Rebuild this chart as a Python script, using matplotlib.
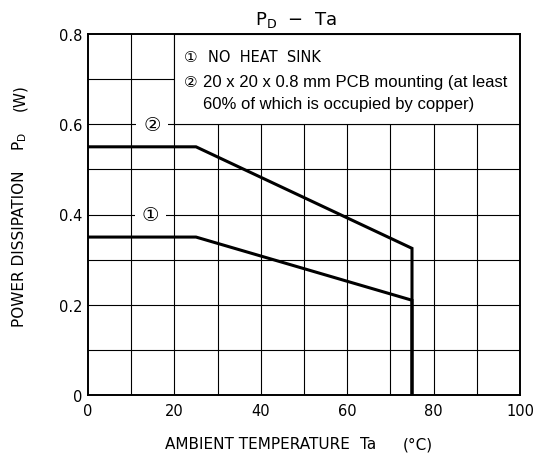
import matplotlib
matplotlib.use("Agg")
import matplotlib.pyplot as plt
from matplotlib.patches import Rectangle

plt.rcParams['font.family'] = ['DejaVu Sans', 'Noto Sans CJK JP']

# data
ta_1 = [0, 25, 75, 75]
pd_1 = [0.35, 0.35, 0.21, 0.0]
ta_2 = [0, 25, 75, 75]
pd_2 = [0.55, 0.55, 0.325, 0.0]

x_major = [0, 20, 40, 60, 80, 100]
x_labels = ["0", "20", "40", "60", "80", "100"]
y_major = [0, 0.2, 0.4, 0.6, 0.8]
y_labels = ["0", "0.2", "0.4", "0.6", "0.8"]
x_grid = [10, 20, 30, 40, 50, 60, 70, 80, 90]
y_grid = [0.1, 0.2, 0.3, 0.4, 0.5, 0.6, 0.7]

W, H = 534, 460


def fx(px):
    return px / W


def fy(py):
    return 1 - py / H


fig = plt.figure(figsize=(W / 100, H / 100), dpi=100)
ax = fig.add_axes([fx(88), fy(396), fx(520) - fx(88), fy(35) - fy(396)])
ax.set_xlim(0, 100)
ax.set_ylim(0, 0.8)

# grid
for x in x_grid:
    ax.axvline(x, color="black", lw=0.8, zorder=1)
for y in y_grid:
    ax.axhline(y, color="black", lw=0.8, zorder=1)

# white box for the notes (covers the grid in the upper right)
ax.add_patch(Rectangle((20, 0.6), 80, 0.2, facecolor="white", edgecolor="black",
                       lw=0.8, zorder=2))
fig.text(fx(184), fy(57), "①", fontsize=11, va="center")
fig.text(fx(208), fy(57), "NO  HEAT  SINK", fontsize=10.5, va="center")
fig.text(fx(184), fy(83), "②", fontsize=11, va="center")
fig.text(fx(203), fy(83), "20 x 20 x 0.8 mm PCB mounting (at least",
         fontsize=12, family="Liberation Sans", va="center")
fig.text(fx(203), fy(104), "60% of which is occupied by copper)",
         fontsize=12, family="Liberation Sans", va="center")

# curve labels on the grid lines
ax.text(14.8, 0.6, "②", fontsize=14, ha="center", va="center", zorder=3,
        bbox=dict(facecolor="white", edgecolor="none", pad=5))
ax.text(14.5, 0.4, "①", fontsize=14, ha="center", va="center", zorder=3,
        bbox=dict(facecolor="white", edgecolor="none", pad=5))

# derating curves
ax.plot(ta_1, pd_1, color="black", lw=2.2, zorder=4, solid_joinstyle="miter")
ax.plot(ta_2, pd_2, color="black", lw=2.2, zorder=4, solid_joinstyle="miter")

ax.set_xticks(x_major)
ax.set_xticklabels(x_labels)
ax.set_yticks(y_major)
ax.set_yticklabels(y_labels)
ax.tick_params(length=0, labelsize=10.5)
ax.tick_params(axis="x", pad=6)
ax.tick_params(axis="y", pad=4)
for s in ax.spines.values():
    s.set_linewidth(1.4)

# axis titles
fig.text(fx(257), fy(445), "AMBIENT TEMPERATURE", fontsize=11, ha="center", va="center")
fig.text(fx(368), fy(445), "Ta", fontsize=11, ha="center", va="center")
fig.text(fx(418), fy(445), "(°C)", fontsize=11, ha="center", va="center")

fig.text(fx(20), fy(249), "POWER DISSIPATION", fontsize=11, rotation=90,
         ha="center", va="center")
fig.text(fx(20), fy(142), r"P$_\mathregular{D}$", fontsize=11, rotation=90,
         ha="center", va="center")
fig.text(fx(20), fy(98), "(W)", fontsize=11, rotation=90, ha="center", va="center")

fig.text(fx(296), fy(20), r"P$_\mathregular{D}$  $-$  Ta", fontsize=13,
         ha="center", va="center")

fig.savefig("out.png", dpi=100)
